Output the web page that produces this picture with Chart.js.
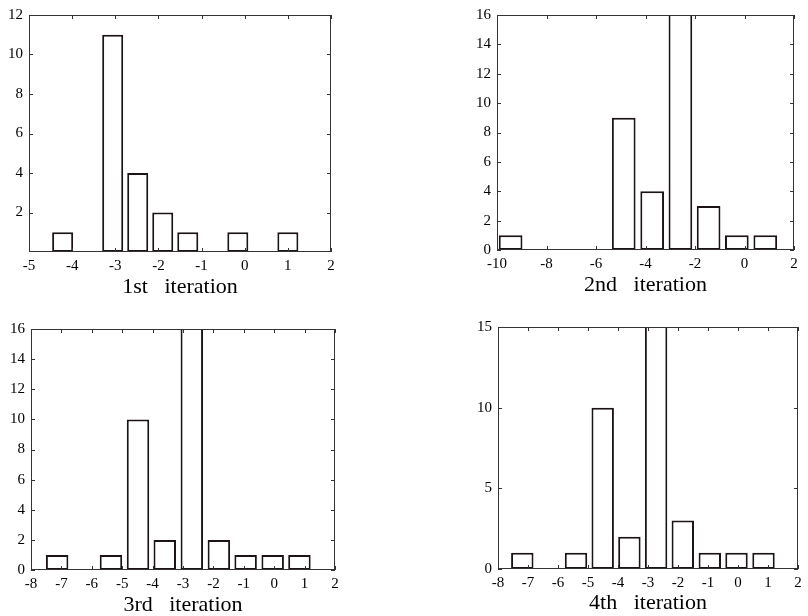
<!DOCTYPE html>
<html>
<head>
<meta charset="utf-8">
<script src="https://cdn.jsdelivr.net/npm/chart.js@4.4.1/dist/chart.umd.min.js"></script>
<style>
  body { margin: 0; background: #fff; width: 808px; height: 616px; overflow: hidden; }
  canvas { position: absolute; }
</style>
</head>
<body>
<canvas id="c1" width="404" height="298" style="left:0;top:0"></canvas>
<canvas id="c2" width="404" height="296" style="left:404px;top:0"></canvas>
<canvas id="c3" width="404" height="316" style="left:0;top:300px"></canvas>
<canvas id="c4" width="404" height="314" style="left:404px;top:300px"></canvas>
<script>
// histogram bin centres and counts
const bins1 = [-4.22, -3.64, -3.06, -2.48, -1.90, -1.32, -0.74, -0.16, 0.42, 1.00];
const counts1 = [1, 0, 11, 4, 2, 1, 0, 1, 0, 1];
const xTicks1 = [-5, -4, -3, -2, -1, 0, 1, 2];
const yTicks1 = [2, 4, 6, 8, 10, 12];

const bins2 = [-9.45, -8.31, -7.16, -6.02, -4.88, -3.73, -2.59, -1.45, -0.31, 0.84];
const counts2 = [1, 0, 0, 0, 9, 4, 21, 3, 1, 1];
const xTicks2 = [-10, -8, -6, -4, -2, 0, 2];
const yTicks2 = [0, 2, 4, 6, 8, 10, 12, 14, 16];

const bins3 = [-7.14, -6.25, -5.37, -4.48, -3.60, -2.71, -1.82, -0.94, -0.05, 0.83];
const counts3 = [1, 0, 1, 10, 2, 21, 2, 1, 1, 1];
const xTicks3 = [-8, -7, -6, -5, -4, -3, -2, -1, 0, 1, 2];
const yTicks3 = [0, 2, 4, 6, 8, 10, 12, 14, 16];

const bins4 = [-7.19, -6.30, -5.40, -4.51, -3.62, -2.73, -1.84, -0.94, -0.05, 0.85];
const counts4 = [1, 0, 1, 10, 2, 20, 3, 1, 1, 1];
const xTicks4 = [-8, -7, -6, -5, -4, -3, -2, -1, 0, 1, 2];
const yTicks4 = [0, 5, 10, 15];

const titles = ["1st   iteration", "2nd   iteration", "3rd   iteration", "4th   iteration"];

const ink = "#000";
const tickFont = { family: "Liberation Serif", size: 15 };

// box frame plus small inward tick marks on all four sides
const frameTicks = {
  id: "frameTicks",
  afterDraw: (chart) => {
    const ctx = chart.ctx;
    const { left, right, top, bottom } = chart.chartArea;
    const len = 4;
    ctx.save();
    ctx.strokeStyle = "#333";
    ctx.lineWidth = 1;
    ctx.strokeRect(left + 0.5, top + 0.5, right - left - 1, bottom - top - 1);
    ctx.beginPath();
    const xs = chart.scales.x;
    xs.ticks.forEach((t, i) => {
      const px = Math.round(xs.getPixelForTick(i)) + 0.5;
      ctx.moveTo(px, bottom); ctx.lineTo(px, bottom - len);
      ctx.moveTo(px, top); ctx.lineTo(px, top + len);
    });
    const ys = chart.scales.y;
    ys.ticks.forEach((t, i) => {
      const py = Math.round(ys.getPixelForTick(i)) + 0.5;
      ctx.moveTo(left, py); ctx.lineTo(left + len, py);
      ctx.moveTo(right, py); ctx.lineTo(right - len, py);
    });
    ctx.stroke();
    ctx.restore();
  }
};

function makeHist(id, bins, counts, xTicks, yTicks, yMax, title, box) {
  const ctx = document.getElementById(id).getContext("2d");
  const points = bins.map((b, i) => ({ x: b, y: counts[i] }));

  new Chart(ctx, {
    type: "bar",
    data: {
      datasets: [{
        data: points,
        backgroundColor: "#fff",
        borderColor: "#1c1414",
        borderWidth: 2,
        borderSkipped: false,
        barPercentage: 0.84,
        categoryPercentage: 1,
        clip: 0
      }]
    },
    options: {
      responsive: false,
      animation: false,
      events: [],
      layout: { padding: { left: 0, top: box.top, right: box.right, bottom: 0 } },
      plugins: { legend: { display: false }, tooltip: { enabled: false } },
      scales: {
        x: {
          type: "linear",
          offset: false,
          min: xTicks[0],
          max: xTicks[xTicks.length - 1],
          grid: { display: false, drawTicks: false, offset: false },
          border: { display: false },
          afterBuildTicks: (scale) => { scale.ticks = xTicks.map(v => ({ value: v })); },
          afterFit: (scale) => { scale.height = box.xh; },
          ticks: { font: tickFont, color: ink, padding: 5, maxRotation: 0, autoSkip: false },
          title: {
            display: true,
            text: title,
            color: ink,
            padding: 0,
            font: { family: "Liberation Serif", size: 22, lineHeight: 1 }
          }
        },
        y: {
          min: 0,
          max: yMax,
          grid: { display: false, drawTicks: false },
          border: { display: false },
          afterBuildTicks: (scale) => { scale.ticks = yTicks.map(v => ({ value: v })); },
          afterFit: (scale) => { scale.width = box.yw; },
          ticks: { font: tickFont, color: ink, padding: 6 }
        }
      }
    },
    plugins: [frameTicks]
  });
}

makeHist("c1", bins1, counts1, xTicks1, yTicks1, 12, titles[0], { top: 14, right: 73, yw: 29, xh: 46 });
makeHist("c2", bins2, counts2, xTicks2, yTicks2, 16, titles[1], { top: 10, right: 14, yw: 93, xh: 46 });
makeHist("c3", bins3, counts3, xTicks3, yTicks3, 16, titles[2], { top: 29, right: 69, yw: 31, xh: 46 });
makeHist("c4", bins4, counts4, xTicks4, yTicks4, 15, titles[3], { top: 27, right: 10, yw: 94, xh: 45 });
</script>
</body>
</html>
